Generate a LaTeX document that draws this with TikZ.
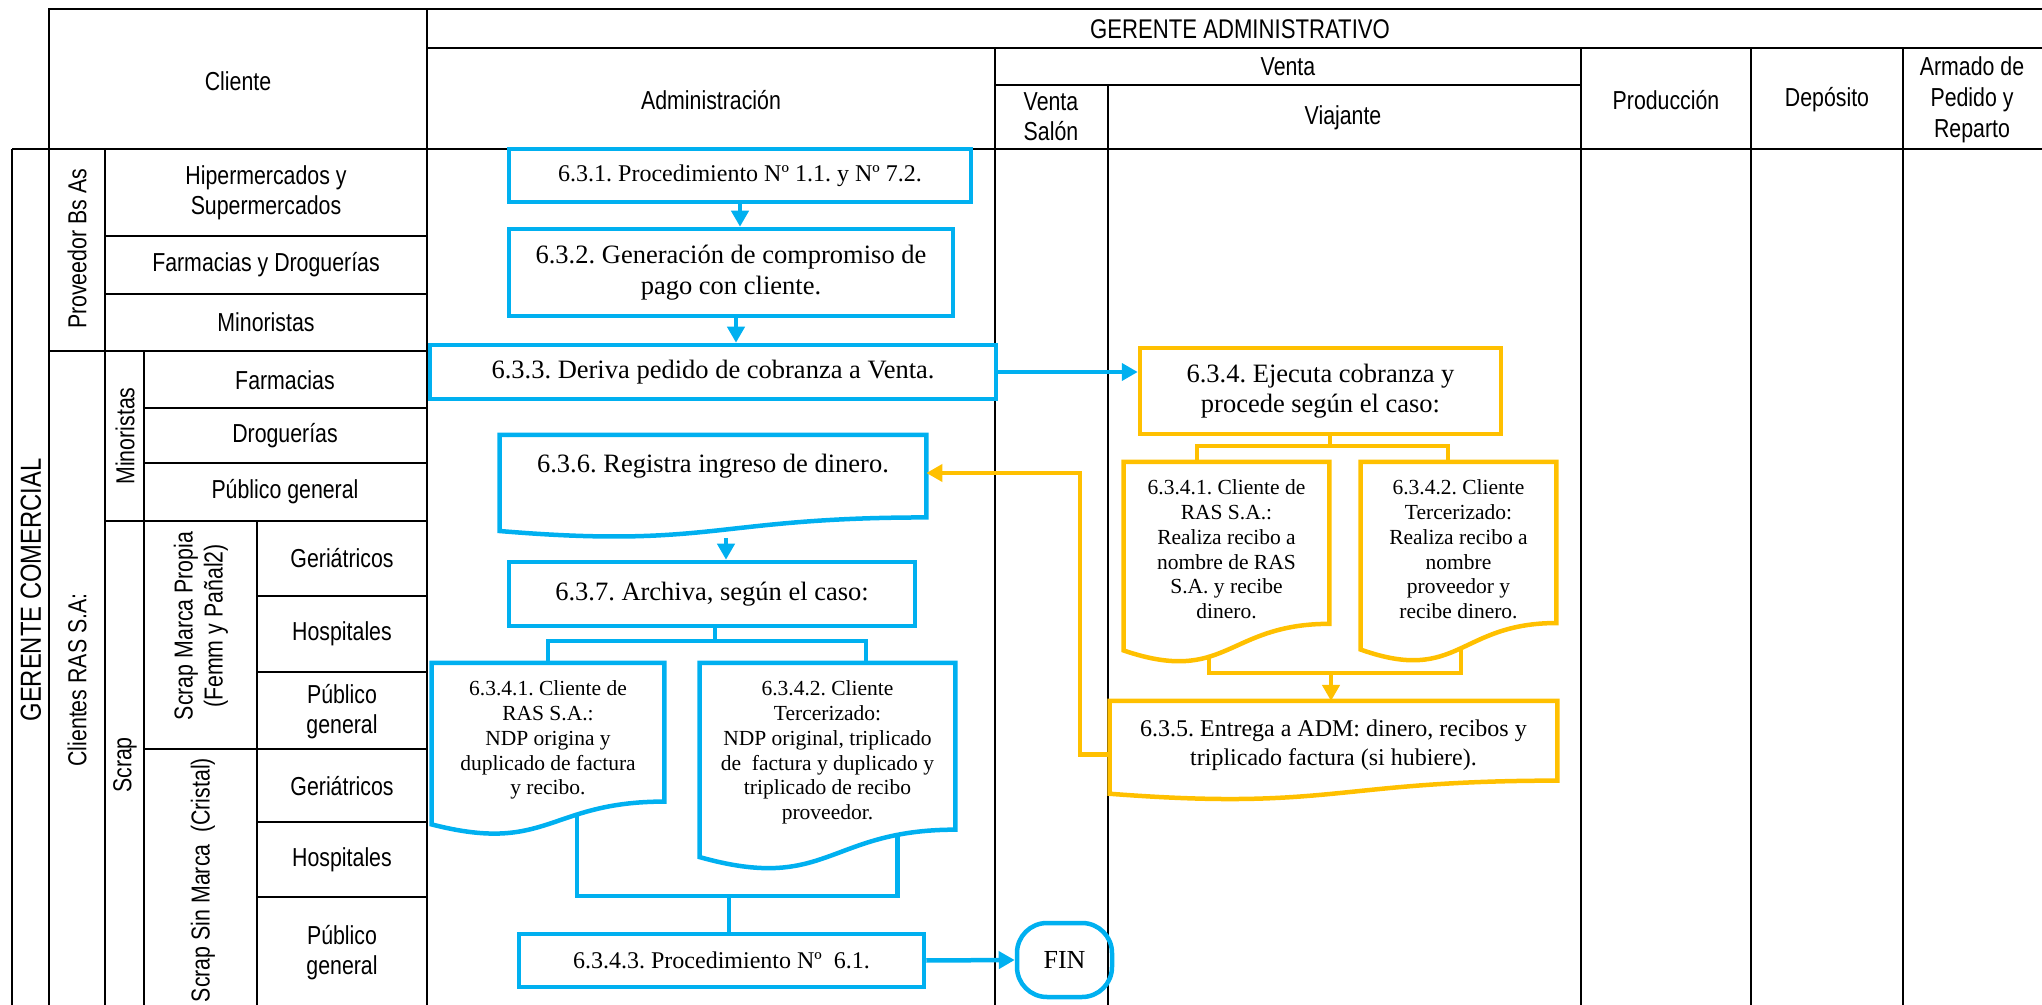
\documentclass[tikz,border=0pt]{standalone}
\usepackage{fontspec}
\setmainfont{Liberation Serif}
\newfontfamily\tabfont[FakeStretch=0.82]{Liberation Sans}
\usetikzlibrary{arrows.meta,calc}
\definecolor{flowblue}{HTML}{00B0F0}
\definecolor{flowgold}{HTML}{FFC000}
\frenchspacing

% text block of a document symbol: width, height, top gap, contents
\newcommand\docbox[4]{\parbox[c][#2][t]{#1}{\centering\vspace*{#3}#4\par}}
% outline of a document symbol (wavy bottom) around a node
\newcommand\drawdoc[2]{%
  \draw[#2] (#1.north west) -- (#1.north east)
    -- ($(#1.north east)!0.802!(#1.south east)$)
    .. controls ($(#1.north)!0.802!(#1.south)$) and ($(#1.north)!1.1074!(#1.south)$)
    .. ($(#1.north west)!0.934!(#1.south west)$) -- cycle;}

\tikzset{
  rule/.style={line width=1.4pt, black},
  tab/.style={font=\tabfont\fontsize{13}{15}\selectfont, align=center, inner sep=0pt},
  tabbig/.style={font=\tabfont\fontsize{14.5}{17}\selectfont, align=center, inner sep=0pt},
  bline/.style={flowblue, line width=2.25pt},
  gline/.style={flowgold, line width=2.25pt},
  barrow/.style={bline, -{Triangle[length=8pt,width=8.5pt]}},
  garrow/.style={gline, -{Triangle[length=8pt,width=8.5pt]}},
  bbox/.style={draw=flowblue, line width=2.25pt, inner sep=0pt, align=center},
  gbox/.style={draw=flowgold, line width=2.25pt, inner sep=0pt, align=center},
  docnode/.style={inner sep=0pt, anchor=north},
  big/.style={font=\fontsize{13.25}{15.25}\selectfont},
  mid/.style={font=\fontsize{12}{14.5}\selectfont},
  small/.style={font=\fontsize{10.75}{12.4}\selectfont},
}

\begin{document}
\begin{tikzpicture}[x=0.5pt,y=-0.5pt]
\useasboundingbox (0,0) rectangle (2042,1005);
\clip (0,0) rectangle (2042,1005);

% ---------- table frame ----------
\draw[rule] (49,1005) -- (49,9) -- (2042,9);
\draw[rule] (427,9) -- (427,1005);
\draw[rule] (427,48) -- (2042,48);
\draw[rule] (995,48) -- (995,1005);
\draw[rule] (995,85) -- (1581,85);
\draw[rule] (1108,85) -- (1108,1005);
\draw[rule] (1581,48) -- (1581,1005);
\draw[rule] (1751,48) -- (1751,1005);
\draw[rule] (1903,48) -- (1903,1005);
\draw[rule] (12,149) -- (2042,149);
\draw[rule] (12,149) -- (12,1005);
\draw[rule] (105,149) -- (105,1005);
\draw[rule] (144,351) -- (144,1005);
\draw[rule] (257,521) -- (257,1005);
% row separators of the client column
\draw[rule] (105,236) -- (427,236);
\draw[rule] (105,294) -- (427,294);
\draw[rule] (49,351) -- (427,351);
\draw[rule] (144,408) -- (427,408);
\draw[rule] (144,463) -- (427,463);
\draw[rule] (105,521) -- (427,521);
\draw[rule] (257,596) -- (427,596);
\draw[rule] (257,672) -- (427,672);
\draw[rule] (144,749) -- (427,749);
\draw[rule] (257,822) -- (427,822);
\draw[rule] (257,897) -- (427,897);

% ---------- header texts ----------
\node[tab] (tCliente) at (238,81) {Cliente};
\node[tab, font=\tabfont\fontsize{13.5}{15}\selectfont] (tGA) at (1240,29) {GERENTE ADMINISTRATIVO};
\node[tab] (tAdm) at (711,100) {Administración};
\node[tab] (tVenta) at (1288,67) {Venta};
\node[tab] (tVS) at (1051,117) {Venta\\Salón};
\node[tab] (tViaj) at (1343,118) {Viajante};
\node[tab] (tProd) at (1666,100) {Producción};
\node[tab] (tDep) at (1827,100) {Depósito};
\node[tab, font=\tabfont\fontsize{13}{15.5}\selectfont] (tArm) at (1972,100) {Armado de\\Pedido y\\Reparto};

% ---------- client column ----------
\node[tabbig, rotate=90] (tGC) at (31,590) {GERENTE COMERCIAL};
\node[tab, rotate=90] (tPBA) at (77,249) {Proveedor Bs As};
\node[tab, rotate=90] (tCRAS) at (77,680) {Clientes RAS S.A:};
\node[tab, rotate=90] (tMin) at (125,436) {Minoristas};
\node[tab, rotate=90] (tScrap) at (125,765) {Scrap};
\node[tab, rotate=90] (tSMP) at (201,626) {Scrap Marca Propia\\(Femm y Pañal2)};
\node[tab, rotate=90] (tSSM) at (203,880) {Scrap Sin Marca\ \ (Cristal)};

\node[tab] (c1) at (266,193) {Hipermercados y\\Supermercados};
\node[tab] (c2) at (266,265) {Farmacias y Droguerías};
\node[tab] (c3) at (266,322) {Minoristas};
\node[tab] (c4) at (285,380) {Farmacias};
\node[tab] (c5) at (285,436) {Droguerías};
\node[tab] (c6) at (285,492) {Público general};
\node[tab] (c7) at (342,558) {Geriátricos};
\node[tab] (c8) at (342,634) {Hospitales};
\node[tab] (c9) at (342,712) {Público\\general};
\node[tab] (c10) at (342,786) {Geriátricos};
\node[tab] (c11) at (342,860) {Hospitales};
\node[tab] (c12) at (342,953) {Público\\general};

% ---------- administration steps ----------
\node[bbox, mid, minimum width=231pt, minimum height=26.5pt] (n631) at (740,175.5)
  {6.3.1. Procedimiento Nº 1.1. y Nº 7.2.};
\node[bbox, big, minimum width=222pt, minimum height=43.5pt] (n632) at (731,272.5)
  {6.3.2. Generación de compromiso de\\pago con cliente.};
\node[bbox, big, minimum width=283pt, minimum height=27pt] (n633) at (713,372)
  {6.3.3. Deriva pedido de cobranza a Venta.};
\node[docnode, big] (n636) at (713,435)
  {\docbox{213pt}{51pt}{9.25pt}{6.3.6. Registra ingreso de dinero.}};
\node[bbox, big, minimum width=203pt, minimum height=32pt] (n637) at (712,594)
  {6.3.7. Archiva, según el caso:};
\node[docnode, small] (d6341) at (548,663)
  {\docbox{116pt}{86pt}{8.65pt}{6.3.4.1. Cliente de\\RAS S.A.:\\NDP origina y\\duplicado de factura\\y recibo.}};
\node[docnode, small] (d6342) at (827.5,663)
  {\docbox{127.5pt}{103.5pt}{8.65pt}{6.3.4.2. Cliente\\Tercerizado:\\NDP original, triplicado\\de\ \ factura y duplicado y\\triplicado de recibo\\proveedor.}};
\node[bbox, mid, minimum width=202.5pt, minimum height=26.5pt] (n6343) at (721.5,960.5)
  {6.3.4.3. Procedimiento Nº\ \ 6.1.};
\node[bbox, rounded corners=15pt, minimum width=47.5pt, minimum height=37pt,
      font=\fontsize{13}{15}\selectfont] (fin) at (1064.5,960) {FIN};

% ---------- collection steps ----------
\node[gbox, big, minimum width=180.5pt, minimum height=43pt] (n634) at (1320.5,391)
  {6.3.4. Ejecuta cobranza y\\procede según el caso:};
\node[docnode, small] (y6341) at (1226.5,462)
  {\docbox{102.5pt}{100.5pt}{8.65pt}{6.3.4.1. Cliente de\\RAS S.A.:\\Realiza recibo a\\nombre de RAS\\S.A. y recibe\\dinero.}};
\node[docnode, small] (y6342) at (1458.5,462)
  {\docbox{97.5pt}{100pt}{8.65pt}{6.3.4.2. Cliente\\Tercerizado:\\Realiza recibo a\\nombre\\proveedor y\\recibe dinero.}};
\node[docnode, mid] (n635) at (1333.5,701)
  {\docbox{223.5pt}{49.25pt}{9.2pt}{6.3.5. Entrega a ADM: dinero, recibos y\\triplicado factura (si hubiere).}};

% document outlines
\drawdoc{n636}{bline}
\drawdoc{d6341}{bline}
\drawdoc{d6342}{bline}
\drawdoc{y6341}{gline}
\drawdoc{y6342}{gline}
\drawdoc{n635}{gline}

% ---------- connectors: administration ----------
\draw[barrow] (n631.south) -- (n631.south |- n632.north);
\draw[barrow] ([xshift=2.5pt]n632.south) -- ([xshift=2.5pt]n632.south |- n633.north);
\draw[barrow] (n633.east) -- (n633.east -| n634.west);
\draw[barrow] ([xshift=6.5pt]n636.south) -- ([xshift=6.5pt]n636.south |- n637.north);

\coordinate (splitB) at (715,641);
\draw[bline] (n637.south -| splitB) -- (splitB);
\draw[bline] (d6341.north) |- (splitB) -| ($(d6342.north west)!0.651!(d6342.north east)$);

\coordinate (mergeB) at (729,896);
\draw[bline] ($(d6341.south west)!0.625!(d6341.south east)+(0,-21.4)$) |- (mergeB)
  -| ($(d6342.south west)!0.773!(d6342.south east)+(0,-35.8)$);
\draw[bline] (mergeB) -- (mergeB |- n6343.north);
\draw[barrow] (n6343.east) -- (fin.west);

% ---------- connectors: collection ----------
\coordinate (splitY) at (1330,446);
\draw[gline] (n634.south -| splitY) -- (splitY);
\draw[gline] ($(y6341.north west)!0.356!(y6341.north east)$) |- (splitY)
  -| ($(y6342.north west)!0.446!(y6342.north east)$);

\coordinate (mergeY) at (1331,673);
\draw[gline] ($(y6341.south west)!0.415!(y6341.south east)+(0,-7)$) |- (mergeY)
  -| ($(y6342.south west)!0.513!(y6342.south east)+(0,-14.4)$);
\draw[garrow] (mergeY) -- (mergeY |- n635.north);

\coordinate (ret) at (1080,473);
\draw[garrow] ([yshift=-2pt]n635.west) -| (ret) -- (ret -| n636.east);

\end{tikzpicture}
\end{document}
